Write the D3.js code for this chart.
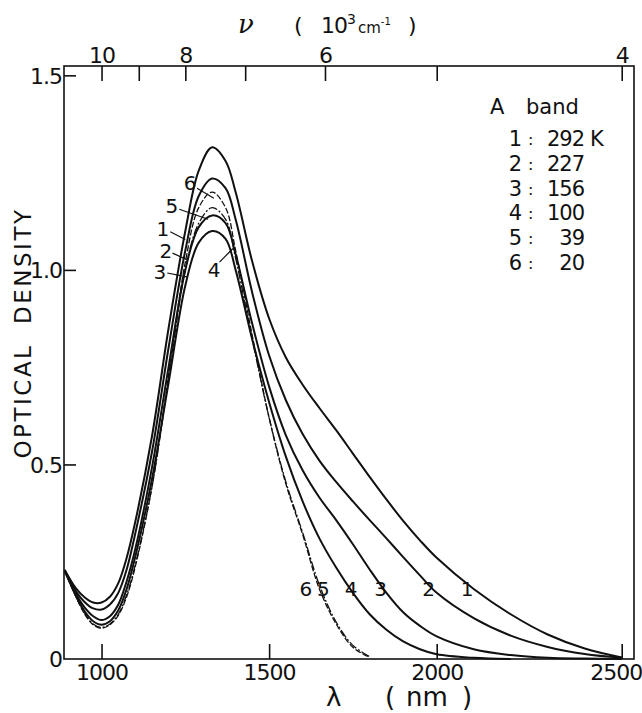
<!DOCTYPE html>
<html>
<head>
<meta charset="utf-8">
<script src="https://cdn.jsdelivr.net/npm/d3@7"></script>
<style>
  body { margin: 0; background: #fff; }
  text { font-family: "DejaVu Sans", sans-serif; fill: #111; }
</style>
</head>
<body>
<div id="chart-area"></div>
<script>
// wavelength grid (nm) shared by all spectra
var wavelengths = [890, 925, 950, 975, 1000, 1025, 1050, 1075, 1100, 1150, 1200, 1250, 1290, 1330, 1370, 1400,
                   1450, 1500, 1550, 1600, 1650, 1700, 1750, 1800, 1850, 1900, 1950, 2000, 2100, 2200, 2300, 2400, 2500];

// optical density, one array per temperature
var od292 = [0.229, 0.18, 0.158, 0.145, 0.145, 0.16, 0.195, 0.26, 0.35, 0.57, 0.85, 1.10, 1.255, 1.315, 1.28, 1.20,
             1.02, 0.875, 0.775, 0.705, 0.645, 0.588, 0.528, 0.468, 0.41, 0.355, 0.305, 0.26, 0.18, 0.115, 0.063, 0.027, 0.004];
var od227 = [0.229, 0.172, 0.146, 0.13, 0.127, 0.14, 0.17, 0.23, 0.32, 0.53, 0.80, 1.05, 1.19, 1.235, 1.21, 1.13,
             0.94, 0.78, 0.665, 0.578, 0.51, 0.455, 0.405, 0.357, 0.31, 0.262, 0.215, 0.17, 0.105, 0.06, 0.031, 0.013, 0.003];
var od156 = [0.227, 0.165, 0.132, 0.11, 0.10, 0.11, 0.14, 0.20, 0.28, 0.49, 0.75, 1.00, 1.11, 1.14, 1.12, 1.04,
             0.86, 0.70, 0.575, 0.485, 0.415, 0.357, 0.295, 0.23, 0.17, 0.12, 0.085, 0.058, 0.025, 0.01, 0.003, 0.001, 0];
var od100 = [0.227, 0.16, 0.122, 0.097, 0.088, 0.097, 0.125, 0.18, 0.26, 0.46, 0.71, 0.96, 1.07, 1.10, 1.08, 1.00,
             0.82, 0.66, 0.52, 0.405, 0.31, 0.235, 0.17, 0.115, 0.075, 0.045, 0.025, 0.012, 0.003, 0, null, null, null];
var od39  = [0.227, 0.158, 0.117, 0.09, 0.081, 0.09, 0.115, 0.165, 0.24, 0.44, 0.72, 1.00, 1.12, 1.16, 1.13, 1.03,
             0.82, 0.62, 0.455, 0.325, 0.19, 0.095, 0.035, 0.006, null, null, null, null, null, null, null, null, null];
var od20  = [0.227, 0.157, 0.115, 0.088, 0.079, 0.088, 0.112, 0.16, 0.235, 0.44, 0.73, 1.02, 1.16, 1.20, 1.16, 1.05,
             0.83, 0.62, 0.45, 0.32, 0.18, 0.09, 0.03, 0.004, null, null, null, null, null, null, null, null, null];

var curveIds = ["1", "2", "3", "4", "5", "6"];
var temperatures = ["292", "227", "156", "100", "39", "20"];
var dashed = [false, false, false, false, true, true];

// label near the peak: text position and leader ends (lambda, OD)
var peakLabelAt = [[1183, 1.105], [1192, 1.048], [1174, 0.995], [1336, 1.0], [1210, 1.165], [1264, 1.225]];
var peakLeaderFrom = [[1205, 1.098], [1212, 1.043], [1196, 0.992], [1352, 1.02], [1232, 1.156], [1285, 1.21]];
var peakLeaderTo = [[1250, 1.078], [1258, 1.025], [1255, 0.982], [1392, 1.055], [1318, 1.13], [1335, 1.184]];
// labels along the tail at OD ~0.18
var tailLabelLambda = [2082, 1976, 1833, 1745, 1662, 1610];
var tailLabelOd = 0.18;

var xTicks = [1000, 1500, 2000, 2500];
var yTicks = [0, 0.5, 1.0, 1.5];
var nuTicks = [10, 9, 8, 7, 6, 5, 4];
var nuLabels = [10, 8, 6, 4];

var series = [od292, od227, od156, od100, od39, od20];

var width = 642, height = 713;

var svg = d3.select("#chart-area").append("svg")
    .attr("width", width)
    .attr("height", height);

var x = d3.scaleLinear()
    .domain([888, 2000, 2500, 2533])
    .range([64, 436.7, 621.7, 634]);

var y = d3.scaleLinear()
    .domain([0, 1.524])
    .range([659, 66]);

var x0 = x.range()[0], x1 = x.range()[3];
var y0 = y.range()[0], y1 = y.range()[1];

// frame
svg.append("rect")
    .attr("x", x0).attr("y", y1)
    .attr("width", x1 - x0).attr("height", y0 - y1)
    .attr("fill", "none")
    .attr("stroke", "#111")
    .attr("stroke-width", 1.6);

// bottom axis
var bottomAxis = svg.append("g")
    .attr("transform", "translate(0," + y0 + ")")
    .call(d3.axisBottom(x).tickValues(xTicks).tickSize(-15).tickPadding(5).tickFormat(d3.format("d")));

// left axis
var leftAxis = svg.append("g")
    .attr("transform", "translate(" + x0 + ",0)")
    .call(d3.axisLeft(y).tickValues(yTicks).tickSize(-12).tickPadding(2)
        .tickFormat(function(d) { return d === 0 ? "0" : d.toFixed(1); }));

// top axis in wavenumber (10^3 cm^-1): lambda(nm) = 1e4 / nu
var topAxis = svg.append("g")
    .attr("transform", "translate(0," + y1 + ")")
    .call(d3.axisTop(x).tickValues(nuTicks.map(function(n) { return 1e4 / n; }))
        .tickSize(-15).tickPadding(3)
        .tickFormat(function(d) {
            var n = Math.round(1e4 / d);
            return nuLabels.indexOf(n) !== -1 ? n : "";
        }));

[bottomAxis, leftAxis, topAxis].forEach(function(g) {
    g.select(".domain").remove();
    g.selectAll("line").attr("stroke", "#111").attr("stroke-width", 1.6);
    g.selectAll("text")
        .attr("fill", "#111")
        .style("font-family", "'DejaVu Sans', sans-serif")
        .style("font-size", "22px")
        .style("letter-spacing", "-1px");
});
leftAxis.selectAll("text").attr("dy", "0.36em");
leftAxis.selectAll(".tick").filter(function(d) { return d === 0; }).select("line").remove();
bottomAxis.selectAll(".tick").filter(function(d) { return d === 2500; }).select("text").attr("dx", -6);

// spectra
var line = d3.line()
    .defined(function(d) { return d[1] !== null; })
    .x(function(d) { return x(d[0]); })
    .y(function(d) { return y(d[1]); })
    .curve(d3.curveCatmullRom.alpha(0.5));

series.forEach(function(vals, i) {
    var pts = wavelengths.map(function(w, j) { return [w, vals[j]]; });
    svg.append("path")
        .datum(pts)
        .attr("d", line)
        .attr("fill", "none")
        .attr("stroke", "#111")
        .attr("stroke-width", dashed[i] ? 1.3 : 2)
        .attr("stroke-dasharray", dashed[i] ? (i === 4 ? "9,2,2,2" : "6,2") : null)
        .attr("stroke-linejoin", "round");
});

// curve labels near the peak, with leader lines, and along the tail
curveIds.forEach(function(id, i) {
    svg.append("line")
        .attr("x1", x(peakLeaderFrom[i][0])).attr("y1", y(peakLeaderFrom[i][1]))
        .attr("x2", x(peakLeaderTo[i][0])).attr("y2", y(peakLeaderTo[i][1]))
        .attr("stroke", "#111").attr("stroke-width", 1.2);
    svg.append("text")
        .attr("x", x(peakLabelAt[i][0])).attr("y", y(peakLabelAt[i][1]))
        .attr("dy", "0.36em")
        .attr("text-anchor", "middle")
        .style("font-size", "20px")
        .text(id);
    svg.append("text")
        .attr("x", x(tailLabelLambda[i])).attr("y", y(tailLabelOd))
        .attr("dy", "0.36em")
        .attr("text-anchor", "middle")
        .style("font-size", "20px")
        .text(id);
});

// legend
var legend = svg.append("g").style("font-size", "21px");
legend.append("text").attr("x", 490).attr("y", 114).text("A");
legend.append("text").attr("x", 526).attr("y", 114).text("band");
curveIds.forEach(function(id, i) {
    var by = 146 + i * 24.8;
    legend.append("text").attr("x", 522).attr("y", by).attr("text-anchor", "end").text(id);
    legend.append("text").attr("x", 528).attr("y", by - 1).style("font-size", "16px").text(":");
    legend.append("text").attr("x", 584).attr("y", by).attr("text-anchor", "end")
        .style("letter-spacing", "-1px").text(temperatures[i]);
    if (i === 0) legend.append("text").attr("x", 590).attr("y", by).text("K");
});

// axis titles
svg.append("text")
    .attr("transform", "translate(31,333) rotate(-90)")
    .attr("text-anchor", "middle")
    .style("font-size", "23px")
    .style("letter-spacing", "2.5px")
    .attr("xml:space", "preserve")
    .text("OPTICAL  DENSITY");

var bt = svg.append("text").attr("y", 706).style("font-size", "26px");
bt.append("tspan").attr("x", 326).text("λ");
bt.append("tspan").attr("x", 385).text("(");
bt.append("tspan").attr("x", 406).text("nm");
bt.append("tspan").attr("x", 462).text(")");

var tt = svg.append("text").attr("y", 33).style("font-size", "22px");
tt.append("tspan").attr("x", 238).style("font-family", "'DejaVu Serif', serif")
    .style("font-style", "italic").style("font-size", "26px").text("ν");
tt.append("tspan").attr("x", 294).text("(");
tt.append("tspan").attr("x", 321).style("letter-spacing", "-1px").text("10");
tt.append("tspan").attr("dy", -9).style("font-size", "14px").text("3");
tt.append("tspan").attr("dy", 9).attr("dx", 2).style("font-size", "15px").text("cm");
tt.append("tspan").attr("dy", -8).style("font-size", "10px").text("-1");
tt.append("tspan").attr("dy", 8).attr("x", 408).text(")");
</script>
</body>
</html>
